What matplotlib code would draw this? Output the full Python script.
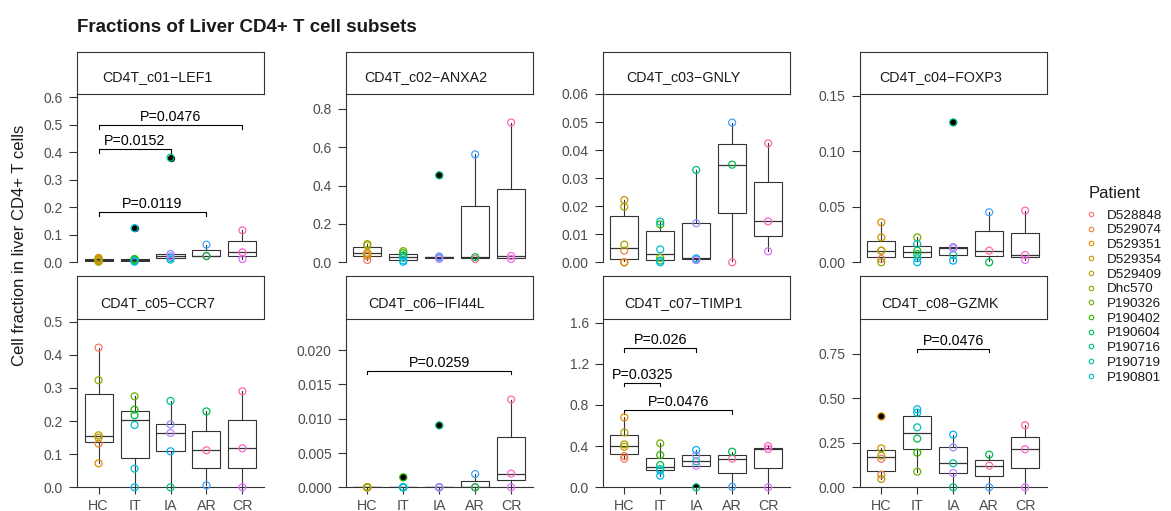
import numpy as np
import matplotlib
matplotlib.use("Agg")
import matplotlib.pyplot as plt
from matplotlib.lines import Line2D

plt.rcParams['font.family'] = ['Liberation Sans', 'DejaVu Sans']

# groups on the x axis
groups = ['HC', 'IT', 'IA', 'AR', 'CR']

# patients shown in the legend (first 12 of the colour palette)
patients = ['D528848', 'D529074', 'D529351', 'D529354', 'D529409', 'Dhc570',
            'P190326', 'P190402', 'P190604', 'P190716', 'P190719', 'P190801']
n_colors = 23

# palette index of the patients in each group, same order as the values below
hc_pat = [0, 1, 2, 3, 4, 5]
it_pat = [6, 7, 8, 11, 12, 13]
ia_pat = [9, 10, 14, 16, 17]
ar_pat = [22, 15, 8]
cr_pat = [18, 20, 21]
group_pat = [hc_pat, it_pat, ia_pat, ar_pat, cr_pat]

subsets = ['CD4T_c01\u2212LEF1', 'CD4T_c02\u2212ANXA2', 'CD4T_c03\u2212GNLY', 'CD4T_c04\u2212FOXP3',
           'CD4T_c05\u2212CCR7', 'CD4T_c06\u2212IFI44L', 'CD4T_c07\u2212TIMP1', 'CD4T_c08\u2212GZMK']

# fractions per subset: [HC, IT, IA, AR, CR]
c01 = [[0.007, 0.004, 0.016, 0.009, 0.012, 0.002],
       [0.010, 0.012, 0.008, 0.005, 0.124, 0.002],
       [0.380, 0.010, 0.016, 0.030, 0.022],
       [0.022, 0.064, 0.023],
       [0.012, 0.036, 0.116]]
c02 = [[0.012, 0.033, 0.042, 0.050, 0.088, 0.095],
       [0.058, 0.048, 0.035, 0.025, 0.010, 0.003],
       [0.454, 0.025, 0.028, 0.030, 0.018],
       [0.017, 0.563, 0.027],
       [0.017, 0.033, 0.729]]
c03 = [[0.0, 0.0042, 0.0, 0.0222, 0.0198, 0.0063],
       [0.0016, 0.0135, 0.0006, 0.0145, 0.0046, 0.0],
       [0.0329, 0.0010, 0.0014, 0.0139, 0.0008],
       [0.0, 0.0498, 0.0348],
       [0.0039, 0.0146, 0.0424]]
c04 = [[0.003, 0.0105, 0.036, 0.0225, 0.0105, 0.0],
       [0.0225, 0.0105, 0.0075, 0.0165, 0.0036, 0.0],
       [0.1262, 0.0066, 0.0015, 0.0138, 0.0126],
       [0.0105, 0.0451, 0.0],
       [0.0021, 0.0066, 0.0466]]
c05 = [[0.4215, 0.132, 0.0724, 0.150, 0.157, 0.323],
       [0.2746, 0.2344, 0.2173, 0.188, 0.0563, 0.0],
       [0.0, 0.2606, 0.1087, 0.190, 0.164],
       [0.1117, 0.006, 0.229],
       [0.0, 0.1177, 0.2897]]
c06 = [[0.0, 0.0, 0.0, 0.0, 0.0, 0.0],
       [0.0, 0.00146, 0.0, 0.0, 0.0, 0.0],
       [0.00903, 0.0, 0.0, 0.0, 0.0],
       [0.0, 0.00194, 0.0],
       [0.0, 0.0020, 0.0128]]
c07 = [[0.278, 0.304, 0.679, 0.394, 0.533, 0.417],
       [0.4266, 0.3135, 0.2165, 0.178, 0.1616, 0.113],
       [0.0, 0.252, 0.362, 0.310, 0.210],
       [0.278, 0.005, 0.346],
       [0.0, 0.372, 0.400]]
c08 = [[0.161, 0.071, 0.399, 0.219, 0.047, 0.178],
       [0.088, 0.195, 0.274, 0.3375, 0.420, 0.439],
       [0.0, 0.135, 0.296, 0.225, 0.0806],
       [0.122, 0.0, 0.184],
       [0.0, 0.214, 0.349]]
fractions = [c01, c02, c03, c04, c05, c06, c07, c08]

# wilcoxon p-values: (group a, group b, bracket height, label)
pvals = [[(0, 4, 0.498, 'P=0.0476'), (0, 2, 0.412, 'P=0.0152'), (0, 3, 0.183, 'P=0.0119')],
         [], [], [], [],
         [(0, 4, 0.0170, 'P=0.0259')],
         [(0, 2, 1.354, 'P=0.026'), (0, 1, 1.018, 'P=0.0325'), (0, 3, 0.750, 'P=0.0476')],
         [(1, 3, 0.780, 'P=0.0476')]]

y_top = [0.611, 0.878, 0.060, 0.1518, 0.507, 0.0245, 1.632, 0.945]
y_step = [0.1, 0.2, 0.01, 0.05, 0.1, 0.005, 0.4, 0.25]
y_tickmax = [0.6, 0.8, 0.06, 0.15, 0.5, 0.02, 1.6, 0.75]
y_fmt = ['%.1f', '%.1f', '%.2f', '%.2f', '%.1f', '%.3f', '%.1f', '%.2f']


def hue_pal(n, c=100.0, l=65.0):
    """ggplot-style evenly spaced hcl hues, converted to sRGB."""
    Xn, Yn, Zn = 95.047, 100.0, 108.883
    un = 4 * Xn / (Xn + 15 * Yn + 3 * Zn)
    vn = 9 * Yn / (Xn + 15 * Yn + 3 * Zn)
    Y = Yn * ((l + 16) / 116) ** 3
    M = np.array([[3.2406, -1.5372, -0.4986],
                  [-0.9689, 1.8758, 0.0415],
                  [0.0557, -0.2040, 1.0570]])
    cols = []
    for h in 15 + 360 * np.arange(n) / n:
        u = c * np.cos(np.radians(h))
        v = c * np.sin(np.radians(h))
        up = u / (13 * l) + un
        vp = v / (13 * l) + vn
        X = Y * 9 * up / (4 * vp)
        Z = Y * (12 - 3 * up - 20 * vp) / (4 * vp)
        rgb = M @ (np.array([X, Y, Z]) / 100)
        rgb = np.clip(rgb, 0, 1)
        rgb = np.where(rgb <= 0.0031308, 12.92 * rgb, 1.055 * rgb ** (1 / 2.4) - 0.055)
        cols.append(tuple(np.clip(rgb, 0, 1)))
    return cols


pal = hue_pal(n_colors)

W, H = 1171, 511
fig = plt.figure(figsize=(W / 100, H / 100), dpi=100)


def px_axes(x0, y0, x1, y1):
    return fig.add_axes([x0 / W, 1 - y1 / H, (x1 - x0) / W, (y1 - y0) / H])


LINE = '#333333'
col_left = [77, 345.7, 602.7, 859.7]
pw = 187
rows = [(51.7, 94.0, 262.3), (276.0, 319.3, 487.3)]

for k in range(8):
    r, c = divmod(k, 4)
    strip_top, plot_top, plot_bot = rows[r]
    left = col_left[c]

    ax = px_axes(left, plot_top, left + pw, plot_bot)
    data = fractions[k]
    ax.boxplot(data, positions=range(1, 6), widths=0.78, whis=1.5, showcaps=False,
               patch_artist=True,
               boxprops=dict(facecolor='white', edgecolor=LINE, linewidth=0.8),
               whiskerprops=dict(color=LINE, linewidth=0.8),
               medianprops=dict(color=LINE, linewidth=0.9),
               flierprops=dict(marker='o', markerfacecolor='black', markeredgecolor='black',
                               markersize=4.3))
    for g in range(5):
        ax.scatter([g + 1] * len(data[g]), data[g], s=5.0 ** 2, facecolors='none',
                   edgecolors=[pal[p] for p in group_pat[g]], linewidths=0.9,
                   zorder=3, clip_on=False)

    ymax = y_top[k]
    tip = 0.022 * ymax
    for a, b, yb, label in pvals[k]:
        ax.plot([a + 1, a + 1, b + 1, b + 1], [yb - tip, yb, yb, yb - tip],
                color='black', lw=0.8)
        ax.annotate(label, xy=((a + b) / 2 + 1, yb), xytext=(0, 2.7),
                    textcoords='offset points', ha='center', va='baseline',
                    fontsize=10.3, color='black')

    ax.set_xlim(0.4, 5.6)
    ax.set_ylim(0, ymax)
    yt = np.arange(0, y_tickmax[k] + y_step[k] / 2, y_step[k])
    ax.set_yticks(yt)
    ax.set_yticklabels([y_fmt[k] % v for v in yt])
    ax.set_xticks(range(1, 6))
    ax.set_xticklabels(groups)
    for side in ['top', 'right']:
        ax.spines[side].set_visible(False)
    for side in ['left', 'bottom']:
        ax.spines[side].set_color(LINE)
        ax.spines[side].set_linewidth(0.8)
    ax.tick_params(axis='y', length=6, width=0.8, color=LINE, pad=4,
                   labelsize=10, labelcolor='#4D4D4D')
    ax.tick_params(axis='x', length=5, width=0.8, color=LINE, pad=3.5,
                   labelsize=10.3, labelcolor='#4D4D4D')
    if r == 0:
        ax.spines['bottom'].set_visible(False)
        ax.tick_params(axis='x', bottom=False, labelbottom=False)

    sx = px_axes(left, strip_top, left + pw, plot_top)
    sx.set_xticks([])
    sx.set_yticks([])
    for sp in sx.spines.values():
        sp.set_color(LINE)
        sp.set_linewidth(0.8)
    sx.text(0.5 - 13 / pw, 12.5 / (plot_top - strip_top), subsets[k], transform=sx.transAxes,
            ha='center', va='baseline', fontsize=10.3, color='#1A1A1A')

fig.text(77 / W, 1 - 31.7 / H, 'Fractions of Liver CD4+ T cell subsets',
         fontsize=13.5, fontweight='bold', ha='left', va='baseline', color='#1A1A1A')
fig.text(20 / W, 1 - 245 / H, 'Cell fraction in liver CD4+ T cells', rotation=90,
         ha='center', va='center', fontsize=12, color='#1A1A1A')

# legend: title placed on its own so the gap to the keys matches ggplot
fig.text(1089 / W, 1 - 193 / H, 'Patient', ha='left', va='center', fontsize=12,
         color='#1A1A1A')
handles = [Line2D([], [], marker='o', ls='', mfc='none', mec=pal[i], ms=3.2, mew=0.8)
           for i in range(len(patients))]
leg = fig.legend(handles, patients, loc='upper left',
                 bbox_to_anchor=(1081.6 / W, 1 - 206.5 / H), frameon=False,
                 fontsize=9.7, handlelength=1.0, handletextpad=0.7, labelspacing=0.17,
                 borderpad=0.2, borderaxespad=0)
for t in leg.get_texts():
    t.set_color('#1A1A1A')

fig.savefig('out.png', dpi=100)
